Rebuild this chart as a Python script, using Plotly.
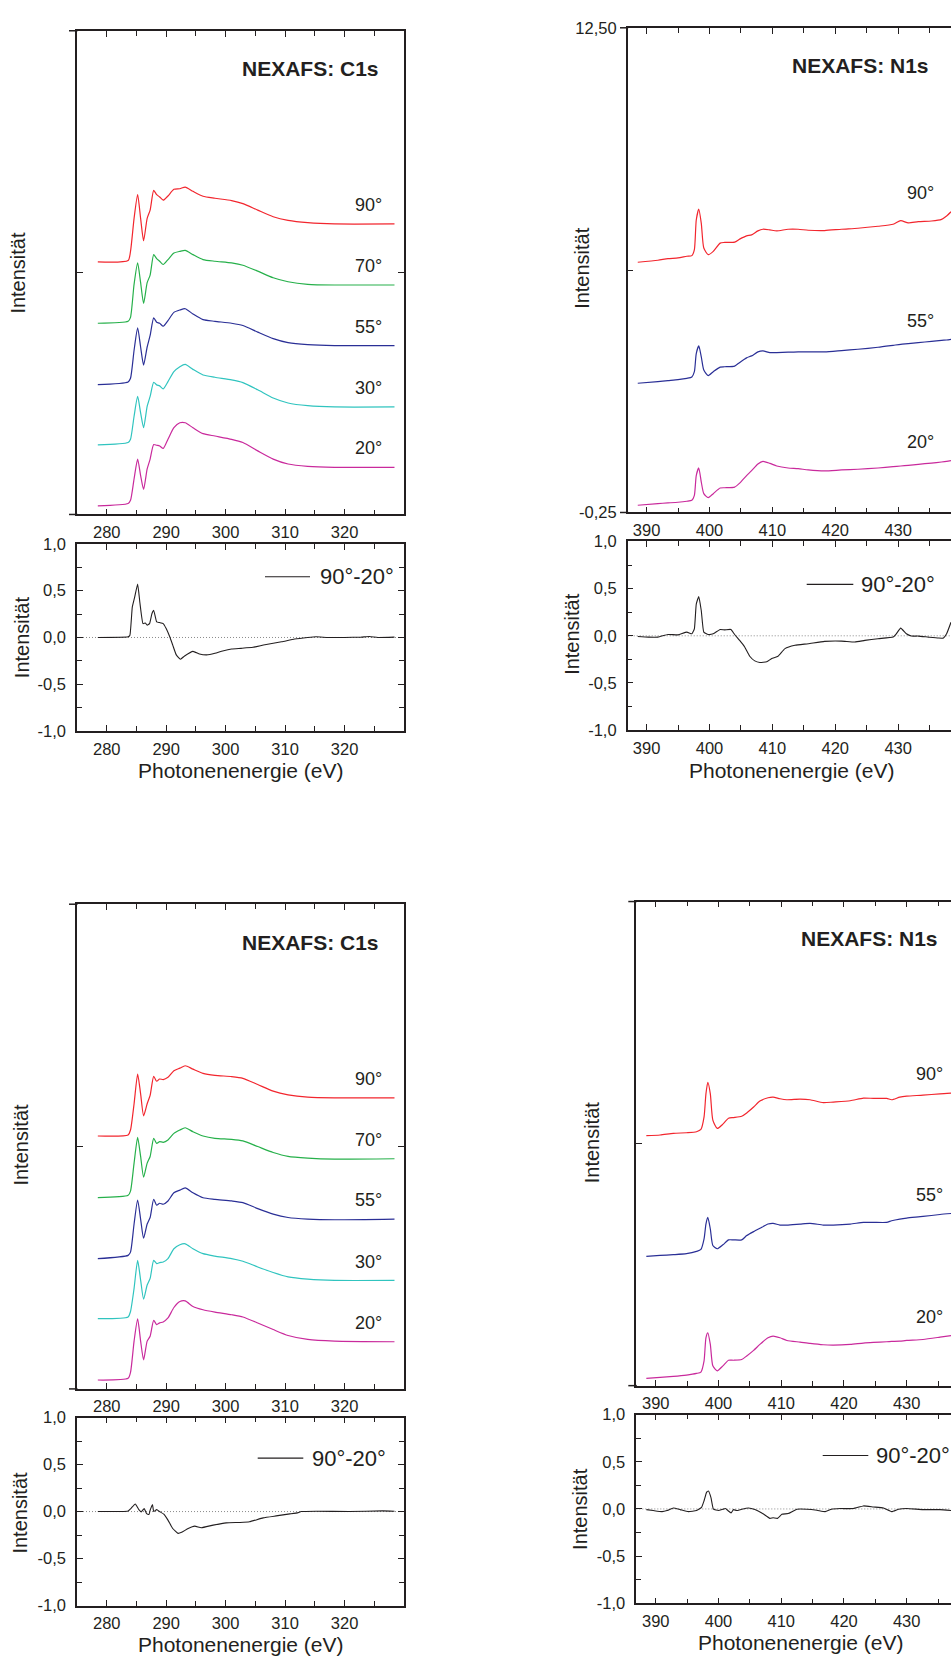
import plotly.graph_objects as go

# ---------------------------------------------------------------- data
# C1s edge: photon energy grid (eV) and stacked spectra (arb. units)
c1s_energy = [278.5, 283.6, 284.0, 284.6, 285.2, 285.7, 286.2, 286.8, 287.3, 287.9,
              288.4, 288.9, 289.5, 290.3, 291.3, 292.3, 293.2, 294.5, 296.2, 298.2,
              301.0, 302.9, 305.4, 308.0, 310.5, 313.8, 318.3, 328.4]

a_c1s_90 = [25.53, 25.67, 26.6, 29.93, 32.33, 29.93, 27.67, 29.93, 30.77, 32.77, 32.33, 32.1,
            31.77, 32.2, 32.87, 32.93, 33.1, 32.67, 32.17, 31.97, 31.73, 31.43, 30.77, 30.1,
            29.73, 29.5, 29.37, 29.37]
a_c1s_70 = [19.33, 19.53, 19.93, 23.27, 25.43, 23.43, 21.33, 23.43, 24.2, 26.27, 25.87, 25.6,
            25.27, 25.77, 26.43, 26.6, 26.7, 26.27, 25.77, 25.6, 25.43, 25.2, 24.6, 23.93,
            23.53, 23.27, 23.2, 23.2]
a_c1s_55 = [13.13, 13.4, 13.77, 16.6, 18.87, 16.93, 15.1, 16.93, 18.1, 19.87, 19.43, 19.33,
            19.03, 19.6, 20.43, 20.67, 20.8, 20.27, 19.7, 19.53, 19.33, 19.1, 18.43, 17.77,
            17.37, 17.17, 17.07, 17.07]
a_c1s_30 = [7.03, 7.27, 7.6, 9.93, 11.93, 10.27, 8.77, 10.93, 11.93, 13.37, 13.1, 13.0,
            12.7, 13.43, 14.43, 14.93, 15.17, 14.67, 14.1, 13.87, 13.6, 13.33, 12.6, 11.77,
            11.27, 11.0, 10.87, 10.87]
a_c1s_20 = [0.87, 1.1, 1.43, 3.6, 5.6, 3.93, 2.53, 4.6, 5.6, 7.07, 7.0, 6.93,
            6.67, 7.6, 8.77, 9.27, 9.27, 8.77, 8.17, 7.93, 7.6, 7.27, 6.43, 5.6,
            5.1, 4.87, 4.77, 4.77]

b_c1s_90 = [25.57, 25.67, 26.17, 28.83, 31.83, 29.83, 27.6, 28.83, 29.67, 31.6, 31.1, 31.33,
            31.27, 31.5, 32.17, 32.43, 32.67, 32.33, 31.9, 31.7, 31.57, 31.4, 30.77, 30.1,
            29.73, 29.5, 29.43, 29.43]
b_c1s_70 = [19.33, 19.57, 20.0, 22.83, 25.43, 23.5, 21.4, 22.83, 23.5, 25.33, 24.83, 25.0,
            24.93, 25.17, 25.83, 26.17, 26.4, 26.0, 25.57, 25.33, 25.23, 25.07, 24.5, 23.9,
            23.5, 23.33, 23.23, 23.27]
b_c1s_55 = [13.17, 13.5, 13.83, 16.67, 19.1, 17.17, 15.23, 16.67, 17.33, 19.17, 18.57, 18.77,
            18.67, 19.0, 19.83, 20.1, 20.33, 19.83, 19.33, 19.17, 19.0, 18.83, 18.23, 17.67,
            17.33, 17.17, 17.1, 17.17]
b_c1s_30 = [7.1, 7.27, 7.83, 10.17, 13.0, 11.0, 9.07, 10.5, 11.17, 13.0, 12.67, 12.77,
            12.83, 13.17, 14.17, 14.57, 14.67, 14.17, 13.67, 13.43, 13.17, 12.9, 12.33, 11.77,
            11.33, 11.1, 10.97, 10.97]
b_c1s_20 = [0.9, 1.07, 1.67, 4.83, 7.07, 4.83, 2.93, 4.83, 5.33, 6.93, 6.5, 6.67,
            6.77, 7.17, 8.23, 8.83, 8.9, 8.33, 8.0, 7.77, 7.5, 7.27, 6.67, 6.0,
            5.4, 5.0, 4.83, 4.77]

# C1s difference spectra 90° - 20°
a_c1s_diff_energy = [278.5, 283.6, 283.9, 284.3, 284.7, 285.2, 285.6, 286.1, 286.5, 286.8,
                     287.2, 287.6, 287.9, 288.4, 288.9, 289.5, 290.0, 290.6, 291.1, 291.7,
                     292.4, 293.1, 294.5, 295.6, 296.8, 298.2, 299.5, 301.0, 302.6, 304.6,
                     306.6, 309.4, 311.6, 313.8, 315.2, 317.2, 320.0, 322.8, 324.2, 325.6, 328.4]
a_c1s_diff = [0.0, 0.007, 0.025, 0.324, 0.43, 0.571, 0.36, 0.148, 0.155, 0.131,
              0.148, 0.254, 0.289, 0.166, 0.159, 0.148, 0.095, 0.007, -0.081, -0.186,
              -0.232, -0.197, -0.148, -0.176, -0.186, -0.169, -0.144, -0.123, -0.116, -0.105,
              -0.077, -0.046, -0.017, 0.0, 0.007, 0.0, 0.0, 0.004, 0.011, 0.0, 0.004]

b_c1s_diff_energy = [278.5, 283.6, 284.1, 284.8, 285.4, 285.8, 286.3, 286.7, 287.1, 287.3,
                     287.7, 287.9, 288.4, 288.9, 289.6, 290.3, 291.1, 292.0, 292.6, 293.7,
                     294.8, 295.9, 297.9, 300.1, 302.4, 304.0, 306.3, 308.5, 310.8, 312.2,
                     312.7, 315.2, 320.8, 326.4, 328.4]
b_c1s_diff = [0.0, 0.007, 0.035, 0.081, 0.021, -0.003, 0.032, -0.021, -0.032, 0.014,
              0.074, 0.0, 0.021, 0.0, -0.028, -0.091, -0.18, -0.232, -0.221, -0.18,
              -0.155, -0.172, -0.144, -0.12, -0.116, -0.109, -0.067, -0.046, -0.025, -0.011,
              0.0, 0.004, 0.0, 0.007, 0.004]

# N1s edge, sample A
a_n1s_energy = [388.6, 391.8, 393.4, 395.0, 396.4, 397.2, 397.6, 397.9, 398.3, 398.7,
                399.1, 399.8, 400.6, 401.7, 402.4, 404.0, 404.8, 405.9, 406.7, 407.7,
                408.5, 409.6, 410.7, 412.5, 414.1, 415.7, 418.3, 421.0, 423.6, 426.8,
                429.2, 430.4, 431.6, 433.2, 435.3, 436.9, 437.7, 438.4]
a_n1s_90 = [6.333, 6.385, 6.429, 6.446, 6.49, 6.507, 6.663, 7.444, 7.73, 7.357,
            6.706, 6.533, 6.62, 6.836, 6.854, 6.862, 6.941, 7.027, 7.053, 7.157,
            7.201, 7.183, 7.157, 7.201, 7.201, 7.175, 7.166, 7.201, 7.227, 7.279,
            7.331, 7.426, 7.366, 7.4, 7.418, 7.461, 7.548, 7.66]
a_n1s_55 = [3.15, 3.194, 3.22, 3.246, 3.28, 3.315, 3.454, 3.931, 4.131, 3.844,
            3.497, 3.35, 3.454, 3.575, 3.584, 3.601, 3.697, 3.818, 3.87, 3.974,
            4.0, 3.957, 3.957, 3.966, 3.974, 3.974, 3.974, 4.009, 4.044, 4.096,
            4.148, 4.174, 4.191, 4.217, 4.252, 4.278, 4.287, 4.304]
a_n1s_20 = [-0.059, -0.015, 0.002, 0.019, 0.045, 0.071, 0.202, 0.722, 0.921, 0.549,
            0.245, 0.141, 0.245, 0.393, 0.401, 0.419, 0.523, 0.722, 0.852, 1.026,
            1.095, 1.043, 0.973, 0.921, 0.904, 0.869, 0.843, 0.869, 0.887, 0.921,
            0.956, 0.973, 0.991, 1.017, 1.051, 1.078, 1.095, 1.113]

a_n1s_diff_energy = [388.6, 390.3, 391.8, 393.4, 395.0, 396.4, 397.2, 397.6, 397.9, 398.3,
                     398.7, 399.1, 399.8, 400.6, 401.7, 402.4, 403.4, 404.0, 404.8, 405.6,
                     406.4, 407.2, 408.0, 409.1, 409.9, 410.9, 412.0, 413.6, 415.7, 418.3,
                     421.0, 423.1, 424.7, 426.8, 429.2, 429.7, 430.4, 431.3, 432.1, 433.2,
                     434.8, 436.4, 437.2, 437.7, 438.4]
a_n1s_diff = [-0.007, -0.014, -0.014, 0.014, 0.01, 0.039, 0.021, 0.074, 0.336, 0.417,
              0.266, 0.039, 0.014, 0.021, 0.067, 0.063, 0.067, 0.014, -0.049, -0.119,
              -0.217, -0.266, -0.283, -0.276, -0.241, -0.217, -0.136, -0.101, -0.084, -0.059,
              -0.056, -0.066, -0.049, -0.031, -0.014, 0.021, 0.081, 0.021, -0.003, -0.003,
              -0.014, -0.024, -0.024, 0.021, 0.143]

# N1s edge, sample B
b_n1s_energy = [388.5, 390.7, 392.8, 394.9, 396.5, 397.2, 397.7, 398.0, 398.3, 398.7,
                399.1, 399.8, 400.7, 401.6, 402.4, 403.7, 404.5, 405.6, 406.6, 407.9,
                408.7, 409.8, 410.9, 413.0, 414.6, 416.7, 418.3, 421.0, 423.1, 424.7,
                426.8, 427.6, 428.9, 430.0, 432.6, 435.3, 437.1]
b_n1s_90 = [6.333, 6.351, 6.394, 6.411, 6.437, 6.498, 6.828, 7.436, 7.74, 7.436,
            6.741, 6.524, 6.637, 6.793, 6.811, 6.846, 6.932, 7.089, 7.245, 7.332,
            7.349, 7.306, 7.28, 7.297, 7.28, 7.202, 7.219, 7.254, 7.323, 7.315,
            7.315, 7.28, 7.349, 7.375, 7.401, 7.436, 7.453]
b_n1s_55 = [3.155, 3.181, 3.199, 3.225, 3.286, 3.338, 3.615, 4.006, 4.18, 3.876,
            3.442, 3.355, 3.459, 3.589, 3.589, 3.589, 3.702, 3.806, 3.893, 4.006,
            4.024, 3.98, 3.98, 4.006, 4.024, 3.98, 3.98, 4.006, 4.05, 4.05,
            4.05, 4.093, 4.137, 4.163, 4.206, 4.258, 4.284]
b_n1s_20 = [-0.058, -0.032, -0.006, 0.029, 0.072, 0.107, 0.402, 1.01, 1.14, 0.836,
            0.272, 0.141, 0.272, 0.419, 0.419, 0.437, 0.532, 0.68, 0.836, 1.01,
            1.053, 1.01, 0.94, 0.897, 0.862, 0.827, 0.819, 0.836, 0.871, 0.888,
            0.906, 0.914, 0.923, 0.94, 0.966, 1.027, 1.07]

b_n1s_diff_energy = [388.5, 389.6, 391.0, 391.8, 392.8, 393.9, 395.2, 396.5, 397.3, 397.7,
                     398.1, 398.4, 398.8, 399.2, 400.0, 400.7, 401.1, 401.5, 402.0, 402.4,
                     402.9, 403.7, 404.8, 405.8, 406.9, 408.2, 408.7, 409.4, 410.1, 411.1,
                     412.5, 414.1, 415.7, 417.0, 418.0, 419.4, 421.5, 423.1, 424.7, 426.3,
                     427.6, 428.7, 430.0, 432.6, 435.3, 437.1]
b_n1s_diff = [-0.007, -0.017, -0.028, -0.017, 0.01, -0.007, -0.028, -0.017, 0.017, 0.087,
              0.176, 0.19, 0.12, -0.003, -0.017, -0.003, 0.004, -0.017, -0.042, -0.007,
              -0.017, -0.003, 0.01, -0.007, -0.042, -0.1, -0.094, -0.1, -0.056, -0.049,
              -0.003, -0.003, -0.014, -0.028, -0.003, 0.004, 0.004, 0.032, 0.021, 0.01,
              -0.028, -0.003, 0.004, -0.007, -0.007, -0.017]

# tick labels
c1s_ticks = [280, 290, 300, 310, 320]
c1s_minor = [275, 285, 295, 305, 315, 325]
n1s_ticks = [390, 400, 410, 420, 430]
n1s_minor = [395, 405, 415, 425, 435]
diff_ticks = [-1.0, -0.5, 0.0, 0.5, 1.0]
diff_tick_text = ["-1,0", "-0,5", "0,0", "0,5", "1,0"]
diff_minor = [-0.75, -0.25, 0.25, 0.75]
n1s_main_ticks = [-0.25, 6.125, 12.5]
n1s_main_tick_text = ["-0,25", "", "12,50"]

angle_labels = ["90°", "70°", "55°", "30°", "20°"]
diff_label = "90°-20°"

# ---------------------------------------------------------------- style
W, H = 951, 1664
FONT = "Liberation Sans, Arial, Helvetica, sans-serif"
INK = "#231f20"
COLORS = {"90°": "#f2262e", "70°": "#26b04a", "55°": "#2a2f96",
          "30°": "#30c4bf", "20°": "#c92a9c"}
TICK_FS = 16.5


def fx(p):
    return p / W


def fy(p):
    return 1 - p / H


fig = go.Figure()
annotations = []
shapes = []


def x_axis(dom, rng, ticks, minor, anchor):
    return dict(domain=[fx(dom[0]), fx(dom[1])], range=rng, anchor=anchor,
                showline=True, linecolor=INK, linewidth=1.5, mirror="ticks",
                ticks="inside", ticklen=6, tickwidth=1.3, tickcolor=INK,
                tickmode="array", tickvals=ticks, ticktext=[str(t) for t in ticks],
                tickfont=dict(family=FONT, size=TICK_FS, color=INK),
                ticklabelstandoff=2,
                minor=dict(tickmode="array", tickvals=minor, ticks="inside",
                           ticklen=5, tickwidth=1.3, tickcolor=INK),
                showgrid=False, zeroline=False)


def y_axis(dom, rng, ticks, text, anchor, mirror, minor=None):
    ax = dict(domain=[fy(dom[1]), fy(dom[0])], range=rng, anchor=anchor,
              showline=True, linecolor=INK, linewidth=1.5,
              mirror="ticks" if mirror else False,
              ticks="inside", ticklen=6, tickwidth=1.3, tickcolor=INK,
              tickmode="array", tickvals=ticks, ticktext=text,
              tickfont=dict(family=FONT, size=TICK_FS, color=INK),
              ticklabelstandoff=6,
              showgrid=False, zeroline=False)
    if minor is not None:
        ax["minor"] = dict(tickmode="array", tickvals=minor, ticks="inside",
                           ticklen=5, tickwidth=1.3, tickcolor=INK)
    return ax


def text(x, y, s, size, bold=False, angle=0, xanchor="center", xref="paper", yref="paper"):
    annotations.append(dict(
        x=x, y=y, xref=xref, yref=yref, text=f"<b>{s}</b>" if bold else s,
        showarrow=False, xanchor=xanchor, yanchor="middle", textangle=angle,
        font=dict(family=FONT, size=size, color=INK)))


# panel geometry: main frame and difference frame (pixels), axis ranges
panels = [
    dict(edge="C1s", main=(77, 404, 22, 511), dframe=(77, 404, 540.7, 730),
         xr=[275, 330], yr=[0, 48.9],
         ticks=c1s_ticks, minor=c1s_minor, ax=("x", "y", "x2", "y2"),
         energy=c1s_energy,
         spectra=[a_c1s_90, a_c1s_70, a_c1s_55, a_c1s_30, a_c1s_20],
         names=angle_labels, label_x=324.0,
         diff_e=a_c1s_diff_energy, diff=a_c1s_diff,
         title_xy=(310.5, 60), ylab_main=(18, 266.5), ylab_diff=(22, 635),
         xtitle=(240.5, 770), leg=(265, 310, 574, 318), ext=69, ylabels=False),
    dict(edge="N1s", main=(627.7, 951, 19, 509), dframe=(627.7, 951, 538.3, 729),
         xr=[387.0, 438.4], yr=[-0.25, 12.5],
         ticks=n1s_ticks, minor=n1s_minor, ax=("x3", "y3", "x4", "y4"),
         energy=a_n1s_energy,
         spectra=[a_n1s_90, a_n1s_55, a_n1s_20],
         names=["90°", "55°", "20°"], label_x=433.6,
         diff_e=a_n1s_diff_energy, diff=a_n1s_diff,
         title_xy=(860.7, 57.3), ylab_main=(581.7, 262), ylab_diff=(571.7, 632),
         xtitle=(791.2, 770), leg=(806.7, 853.3, 581.7, 859), ext=620, ylabels=True),
    dict(edge="C1s", main=(77, 404, 905, 1395), dframe=(77, 404, 1424, 1614),
         xr=[275, 330], yr=[0, 49.0],
         ticks=c1s_ticks, minor=c1s_minor, ax=("x5", "y5", "x6", "y6"),
         energy=c1s_energy,
         spectra=[b_c1s_90, b_c1s_70, b_c1s_55, b_c1s_30, b_c1s_20],
         names=angle_labels, label_x=324.0,
         diff_e=b_c1s_diff_energy, diff=b_c1s_diff,
         title_xy=(310, 943.3), ylab_main=(21, 1148), ylab_diff=(20, 1520),
         xtitle=(240.3, 1653), leg=(257.7, 303.3, 1465, 310), ext=69, ylabels=False),
    dict(edge="N1s", main=(636.3, 951, 902.3, 1391.7), dframe=(636.3, 951, 1421, 1611.7),
         xr=[386.9, 437.06], yr=[-0.25, 12.5],
         ticks=n1s_ticks, minor=n1s_minor, ax=("x7", "y7", "x8", "y8"),
         energy=b_n1s_energy,
         spectra=[b_n1s_90, b_n1s_55, b_n1s_20],
         names=["90°", "55°", "20°"], label_x=433.7,
         diff_e=b_n1s_diff_energy, diff=b_n1s_diff,
         title_xy=(869.5, 940), ylab_main=(591.7, 1146), ylab_diff=(579.3, 1516),
         xtitle=(800, 1651), leg=(822.7, 868.3, 1462.3, 874), ext=628.3, ylabels=False),
]

layout_axes = {}
for p in panels:
    xm, ym, xd, yd = p["ax"]
    mx0, mx1, my0, my1 = p["main"]
    dx0, dx1, dy0, dy1 = p["dframe"]
    is_c1s = p["edge"] == "C1s"

    # axes of the stacked spectra
    layout_axes["xaxis" + xm[1:]] = x_axis((mx0, mx1), p["xr"], p["ticks"], p["minor"], ym)
    mid = (p["yr"][0] + p["yr"][1]) / 2
    if p["ylabels"]:
        yt, ytt = n1s_main_ticks, n1s_main_tick_text
    else:
        yt, ytt = [mid], [""]
    layout_axes["yaxis" + ym[1:]] = y_axis((my0, my1), p["yr"], yt, ytt, xm, is_c1s)

    # axes of the difference spectrum
    layout_axes["xaxis" + xd[1:]] = x_axis((dx0, dx1), p["xr"], p["ticks"], p["minor"], yd)
    layout_axes["yaxis" + yd[1:]] = y_axis((dy0, dy1), [-1, 1], diff_ticks, diff_tick_text,
                                           xd, is_c1s, minor=diff_minor)

    for vals, name in zip(p["spectra"], p["names"]):
        fig.add_trace(go.Scatter(x=p["energy"], y=vals, xaxis=xm, yaxis=ym, mode="lines",
                                 line=dict(color=COLORS[name], width=1.2, shape="spline",
                                           smoothing=0.6),
                                 showlegend=False, hoverinfo="skip"))
        # angle label sits just above the flat tail of each curve
        text(p["label_x"], vals[-1] + 1.9 * (p["yr"][1] - p["yr"][0]) / 48.9, name, 18,
             xref=xm, yref=ym)

    fig.add_trace(go.Scatter(x=p["diff_e"], y=p["diff"], xaxis=xd, yaxis=yd, mode="lines",
                             line=dict(color=INK, width=1.1, shape="spline", smoothing=0.4),
                             showlegend=False, hoverinfo="skip"))
    shapes.append(dict(type="line", xref=xd + " domain", yref=yd, x0=0, x1=1, y0=0, y1=0,
                       line=dict(color="#8a8a8a", width=1, dash="1px,2px"), layer="below"))

    # left overhang of the top and bottom frame lines
    for yy in (my0, my1):
        shapes.append(dict(type="line", xref="paper", yref="paper",
                           x0=fx(p["ext"]), x1=fx(mx0 + 0.5), y0=fy(yy), y1=fy(yy),
                           line=dict(color=INK, width=1.5)))

    # legend of the difference panel
    lx0, lx1, ly, tx = p["leg"]
    shapes.append(dict(type="line", xref="paper", yref="paper",
                       x0=fx(lx0), x1=fx(lx1), y0=fy(ly), y1=fy(ly),
                       line=dict(color=INK, width=1.1)))
    text(fx(tx), fy(ly), diff_label, 22, xanchor="left")

    text(fx(p["title_xy"][0]), fy(p["title_xy"][1]), f"NEXAFS: {p['edge']}", 21, bold=True)
    text(fx(p["ylab_main"][0]), fy(p["ylab_main"][1]), "Intensität", 20, angle=-90)
    text(fx(p["ylab_diff"][0]), fy(p["ylab_diff"][1]), "Intensität", 20, angle=-90)
    text(fx(p["xtitle"][0]), fy(p["xtitle"][1]), "Photonenenergie (eV)", 21)

fig.update_layout(
    width=W, height=H, margin=dict(l=0, r=0, t=0, b=0),
    paper_bgcolor="white", plot_bgcolor="white",
    showlegend=False, annotations=annotations, shapes=shapes,
    font=dict(family=FONT, color=INK),
    **layout_axes,
)

fig.write_html("out.html")
